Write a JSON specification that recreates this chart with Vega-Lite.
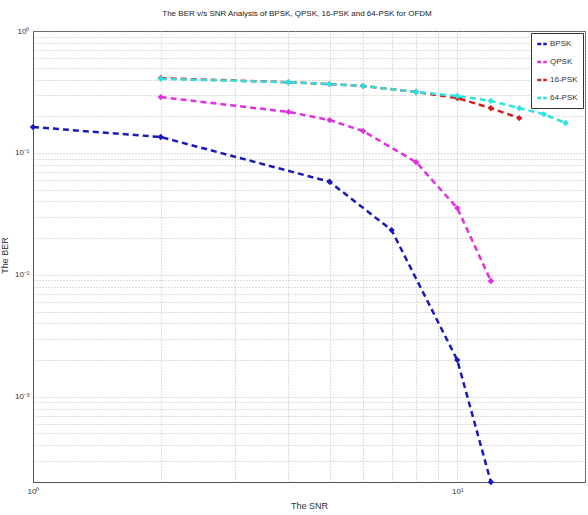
{
  "$schema": "https://vega.github.io/schema/vega-lite/v6.json",
  "autosize": {"type": "none"},
  "width": 552,
  "height": 451,
  "padding": {"left": 33, "top": 31, "right": 3, "bottom": 33},
  "background": "white",
  "title": {
    "text": "The BER v/s SNR Analysis of BPSK, QPSK, 16-PSK and 64-PSK for OFDM",
    "fontSize": 8,
    "fontWeight": "normal",
    "font": "Liberation Sans",
    "color": "#222",
    "offset": 9,
    "dx": -12
  },
  "config": {
    "font": "Liberation Sans",
    "view": {"stroke": "#555", "strokeWidth": 1},
    "axis": {
      "gridDash": [1, 2],
      "gridColor": "#aaa",
      "gridOpacity": 0.8,
      "domainColor": "#555",
      "labelFontSize": 8,
      "labelColor": "#333",
      "titleFontSize": 9,
      "titleFontWeight": "normal",
      "titleColor": "#333",
      "ticks": false
    }
  },
  "data": {
    "values": [
      {"snr": 1, "ber": 0.163, "scheme": "BPSK"},
      {"snr": 2, "ber": 0.135, "scheme": "BPSK"},
      {"snr": 5, "ber": 0.058, "scheme": "BPSK"},
      {"snr": 7, "ber": 0.0233, "scheme": "BPSK"},
      {"snr": 10, "ber": 0.002, "scheme": "BPSK"},
      {"snr": 12, "ber": 0.0002, "scheme": "BPSK"},
      {"snr": 2, "ber": 0.287, "scheme": "QPSK"},
      {"snr": 4, "ber": 0.217, "scheme": "QPSK"},
      {"snr": 5, "ber": 0.186, "scheme": "QPSK"},
      {"snr": 6, "ber": 0.151, "scheme": "QPSK"},
      {"snr": 8, "ber": 0.084, "scheme": "QPSK"},
      {"snr": 10, "ber": 0.0353, "scheme": "QPSK"},
      {"snr": 12, "ber": 0.0089, "scheme": "QPSK"},
      {"snr": 2, "ber": 0.41, "scheme": "16-PSK"},
      {"snr": 4, "ber": 0.38, "scheme": "16-PSK"},
      {"snr": 5, "ber": 0.367, "scheme": "16-PSK"},
      {"snr": 6, "ber": 0.354, "scheme": "16-PSK"},
      {"snr": 8, "ber": 0.316, "scheme": "16-PSK"},
      {"snr": 10, "ber": 0.282, "scheme": "16-PSK"},
      {"snr": 12, "ber": 0.233, "scheme": "16-PSK"},
      {"snr": 14, "ber": 0.193, "scheme": "16-PSK"},
      {"snr": 2, "ber": 0.405, "scheme": "64-PSK"},
      {"snr": 4, "ber": 0.38, "scheme": "64-PSK"},
      {"snr": 5, "ber": 0.367, "scheme": "64-PSK"},
      {"snr": 6, "ber": 0.354, "scheme": "64-PSK"},
      {"snr": 8, "ber": 0.316, "scheme": "64-PSK"},
      {"snr": 10, "ber": 0.293, "scheme": "64-PSK"},
      {"snr": 12, "ber": 0.267, "scheme": "64-PSK"},
      {"snr": 14, "ber": 0.233, "scheme": "64-PSK"},
      {"snr": 16, "ber": 0.208, "scheme": "64-PSK"},
      {"snr": 18, "ber": 0.176, "scheme": "64-PSK"}
    ]
  },
  "mark": {
    "type": "line",
    "strokeDash": [6, 4],
    "strokeWidth": 2.5,
    "point": {"shape": "diamond", "size": 40, "filled": true}
  },
  "encoding": {
    "x": {
      "field": "snr",
      "type": "quantitative",
      "scale": {"type": "log", "domain": [1, 20], "nice": false},
      "title": "The SNR",
      "axis": {
        "values": [1, 2, 3, 4, 5, 6, 7, 8, 9, 10, 20],
        "labelExpr": "datum.value == 1 ? '10⁰' : (datum.value == 10 ? '10¹' : '')",
        "labelPadding": 5,
        "titlePadding": 6,
        "labelFlush": false
      }
    },
    "y": {
      "field": "ber",
      "type": "quantitative",
      "scale": {"type": "log", "domain": [0.0002, 1], "nice": false},
      "title": "The BER",
      "axis": {
        "values": [0.0002, 0.0003, 0.0004, 0.0005, 0.0006, 0.0007, 0.0008, 0.0009, 0.001, 0.002, 0.003, 0.004, 0.005, 0.006, 0.007, 0.008, 0.009, 0.01, 0.02, 0.03, 0.04, 0.05, 0.06, 0.07, 0.08, 0.09, 0.1, 0.2, 0.3, 0.4, 0.5, 0.6, 0.7, 0.8, 0.9, 1],
        "labelExpr": "abs(datum.value - 1) < 1e-9 ? '10⁰' : (abs(datum.value - 0.1) < 1e-9 ? '10⁻¹' : (abs(datum.value - 0.01) < 1e-9 ? '10⁻²' : (abs(datum.value - 0.001) < 1e-9 ? '10⁻³' : '')))",
        "labelPadding": 4,
        "titleX": -24,
        "titleY": 224,
        "labelFlush": false
      }
    },
    "color": {
      "field": "scheme",
      "type": "nominal",
      "scale": {
        "domain": ["BPSK", "QPSK", "16-PSK", "64-PSK"],
        "range": ["#1a1ab8", "#e030e0", "#d41c1c", "#28e4e4"]
      },
      "legend": {
        "title": null,
        "orient": "top-right",
        "offset": 2,
        "fillColor": "white",
        "strokeColor": "#333",
        "padding": 5,
        "rowPadding": 7,
        "labelFontSize": 8,
        "labelOffset": 2,
        "labelColor": "#333",
        "symbolType": "stroke",
        "symbolDash": [4, 2],
        "symbolStrokeWidth": 2.5,
        "symbolSize": 90
      }
    }
  }
}
